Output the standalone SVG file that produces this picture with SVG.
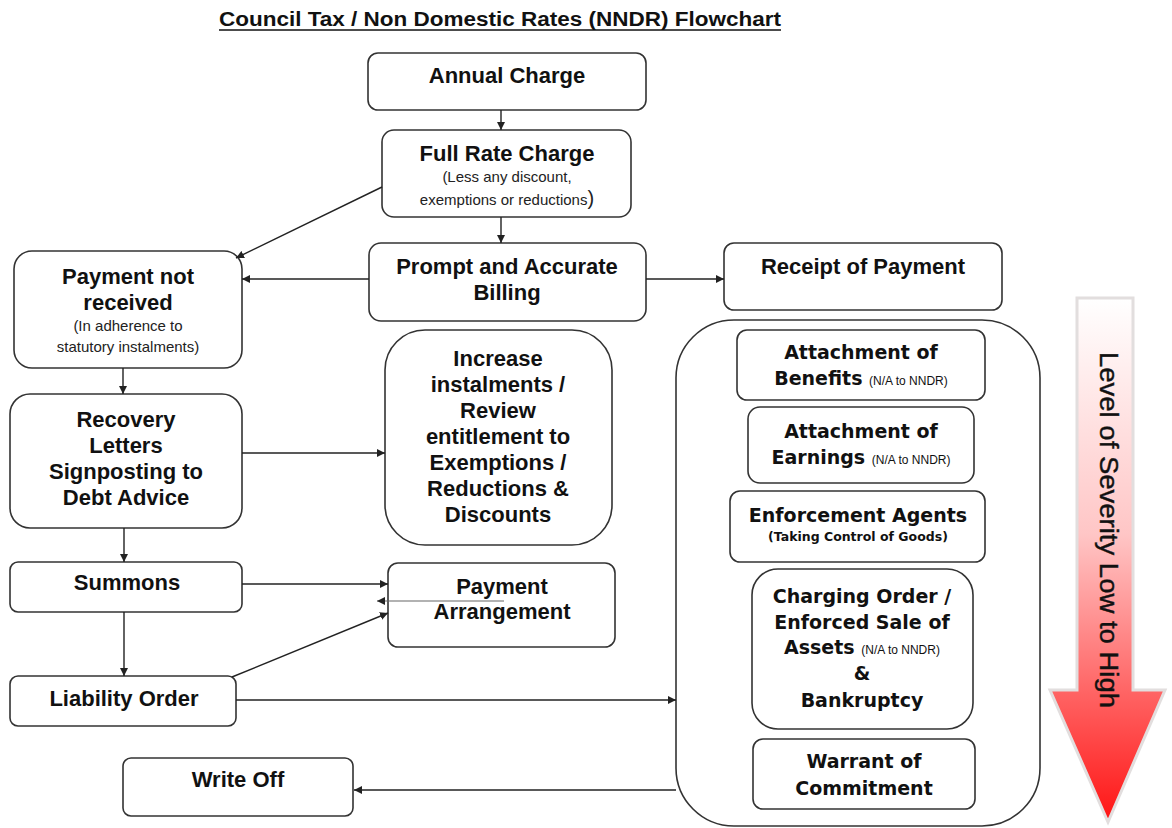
<svg xmlns="http://www.w3.org/2000/svg" width="1172" height="828" viewBox="0 0 1172 828">
<defs>
<marker id="ah" viewBox="0 0 10 10" refX="10" refY="5" markerWidth="8" markerHeight="8" markerUnits="userSpaceOnUse" orient="auto">
<path d="M0,0 L10,5 L0,10 z" fill="#222"/>
</marker>
<linearGradient id="sev" x1="0" y1="298" x2="0" y2="822" gradientUnits="userSpaceOnUse">
<stop offset="0" stop-color="#ffffff"/>
<stop offset="0.45" stop-color="#ffc6c6"/>
<stop offset="1" stop-color="#ff1414"/>
</linearGradient>
</defs>
<style>
.box{fill:#fff;stroke:#333;stroke-width:1.6}
.t{font-family:"Liberation Sans",Arial,sans-serif;font-weight:bold;font-size:22px;fill:#111;text-anchor:middle}
.s{font-family:"Liberation Sans",Arial,sans-serif;font-size:15px;fill:#222;text-anchor:middle}
.v{font-family:"DejaVu Sans",Verdana,sans-serif;font-weight:bold;font-size:19px;fill:#111;text-anchor:middle}
.n{font-family:"Liberation Sans",Arial,sans-serif;font-weight:normal;font-size:12px}
.c{fill:none;stroke:#222;stroke-width:1.4;marker-end:url(#ah)}
</style>
<rect width="1172" height="828" fill="#fff"/>
<g id="title">
<text x="500" y="26" style="font-family:'Liberation Sans',Arial,sans-serif;font-weight:bold;font-size:19.5px;fill:#111;text-anchor:middle" textLength="562" lengthAdjust="spacingAndGlyphs">Council Tax / Non Domestic Rates (NNDR) Flowchart</text>
<line x1="219" y1="30" x2="781" y2="30" stroke="#111" stroke-width="1.6"/>
</g>
<g id="annual-charge">
<rect class="box" x="368" y="53" width="278" height="57" rx="10"/>
<text class="t" x="507" y="83">Annual Charge</text>
</g>
<g id="full-rate-charge">
<rect class="box" x="382" y="130" width="249" height="87" rx="12"/>
<text class="t" x="507" y="161">Full Rate Charge</text>
<text class="s" x="507" y="182">(Less any discount,</text>
<text class="s" x="507" y="205">exemptions or reductions<tspan style="font-size:20px">)</tspan></text>
</g>
<g id="prompt-billing">
<rect class="box" x="369" y="243" width="277" height="78" rx="12"/>
<text class="t" x="507" y="274">Prompt and Accurate</text>
<text class="t" x="507" y="300">Billing</text>
</g>
<g id="receipt-of-payment">
<rect class="box" x="724" y="243" width="278" height="67" rx="10"/>
<text class="t" x="863" y="274">Receipt of Payment</text>
</g>
<g id="payment-not-received">
<rect class="box" x="14" y="251" width="228" height="117" rx="18"/>
<text class="t" x="128" y="284">Payment not</text>
<text class="t" x="128" y="310">received</text>
<text class="s" x="128" y="331">(In adherence to</text>
<text class="s" x="128" y="352">statutory instalments)</text>
</g>
<g id="recovery-letters">
<rect class="box" x="10" y="394" width="232" height="134" rx="20"/>
<text class="t" x="126" y="427">Recovery</text>
<text class="t" x="126" y="453">Letters</text>
<text class="t" x="126" y="479">Signposting to</text>
<text class="t" x="126" y="505">Debt Advice</text>
</g>
<g id="increase-instalments">
<rect class="box" x="385" y="330" width="227" height="215" rx="40"/>
<text class="t" x="498" y="366">Increase</text>
<text class="t" x="498" y="392">instalments /</text>
<text class="t" x="498" y="418">Review</text>
<text class="t" x="498" y="444">entitlement to</text>
<text class="t" x="498" y="470">Exemptions /</text>
<text class="t" x="498" y="496">Reductions &amp;</text>
<text class="t" x="498" y="522">Discounts</text>
</g>
<g id="summons">
<rect class="box" x="10" y="562" width="232" height="50" rx="8"/>
<text class="t" x="127" y="590">Summons</text>
</g>
<g id="payment-arrangement">
<rect class="box" x="388" y="563" width="227" height="84" rx="10"/>
<text class="t" x="502" y="594">Payment</text>
<text class="t" x="502" y="619">Arrangement</text>
</g>
<g id="liability-order">
<rect class="box" x="10" y="676" width="226" height="50" rx="8"/>
<text class="t" x="124" y="706">Liability Order</text>
</g>
<g id="write-off">
<rect class="box" x="123" y="758" width="230" height="58" rx="8"/>
<text class="t" x="238" y="787">Write Off</text>
</g>
<g id="enforcement-stages">
<rect class="box" x="676" y="320" width="364" height="506" rx="58"/>
</g>
<g id="attachment-benefits">
<rect class="box" x="737" y="330" width="248" height="70" rx="10"/>
<text class="v" x="861" y="359">Attachment of</text>
<text class="v" x="861" y="385">Benefits <tspan class="n">(N/A to NNDR)</tspan></text>
</g>
<g id="attachment-earnings">
<rect class="box" x="748" y="407" width="226" height="76" rx="12"/>
<text class="v" x="861" y="438">Attachment of</text>
<text class="v" x="861" y="464">Earnings <tspan class="n">(N/A to NNDR)</tspan></text>
</g>
<g id="enforcement-agents">
<rect class="box" x="730" y="491" width="255" height="71" rx="10"/>
<text class="v" x="858" y="522">Enforcement Agents</text>
<text class="v" x="858" y="541" style="font-size:12.5px">(Taking Control of Goods)</text>
</g>
<g id="charging-order">
<rect class="box" x="752" y="569" width="221" height="160" rx="26"/>
<text class="v" x="862" y="603">Charging Order /</text>
<text class="v" x="862" y="629">Enforced Sale of</text>
<text class="v" x="862" y="654">Assets <tspan class="n">(N/A to NNDR)</tspan></text>
<text class="v" x="862" y="680">&amp;</text>
<text class="v" x="862" y="707">Bankruptcy</text>
</g>
<g id="warrant-commitment">
<rect class="box" x="753" y="739" width="222" height="70" rx="10"/>
<text class="v" x="864" y="768">Warrant of</text>
<text class="v" x="864" y="795">Commitment</text>
</g>
<g id="severity-arrow">
<polygon points="1077,298 1133,298 1133,690 1165,690 1108,822 1050,690 1077,690" fill="url(#sev)" stroke="#e2dede" stroke-width="3" stroke-linejoin="miter"/>
<text transform="translate(1100,530) rotate(90)" style="font-family:'Liberation Sans',Arial,sans-serif;font-size:25px;fill:#111;text-anchor:middle;stroke:#111;stroke-width:0.4" textLength="356" lengthAdjust="spacingAndGlyphs">Level of Severity Low to High</text>
</g>
<g id="connectors">
<line class="c" x1="501" y1="110" x2="501" y2="130"/>
<line class="c" x1="501" y1="217" x2="501" y2="243"/>
<line class="c" x1="382" y1="187" x2="236" y2="258"/>
<line class="c" x1="369" y1="279" x2="242" y2="279"/>
<line class="c" x1="646" y1="279" x2="724" y2="279"/>
<line class="c" x1="123" y1="368" x2="123" y2="394"/>
<line class="c" x1="242" y1="453" x2="385" y2="453"/>
<line class="c" x1="124" y1="528" x2="124" y2="562"/>
<line class="c" x1="242" y1="584" x2="388" y2="584"/>
<line class="c" x1="504" y1="601" x2="377" y2="601" style="stroke:#666;stroke-width:1.2"/>
<line class="c" x1="124" y1="612" x2="124" y2="676"/>
<line class="c" x1="232" y1="677" x2="388" y2="613"/>
<line class="c" x1="236" y1="700" x2="676" y2="700"/>
<line class="c" x1="676" y1="790" x2="354" y2="790"/>
</g>
</svg>
